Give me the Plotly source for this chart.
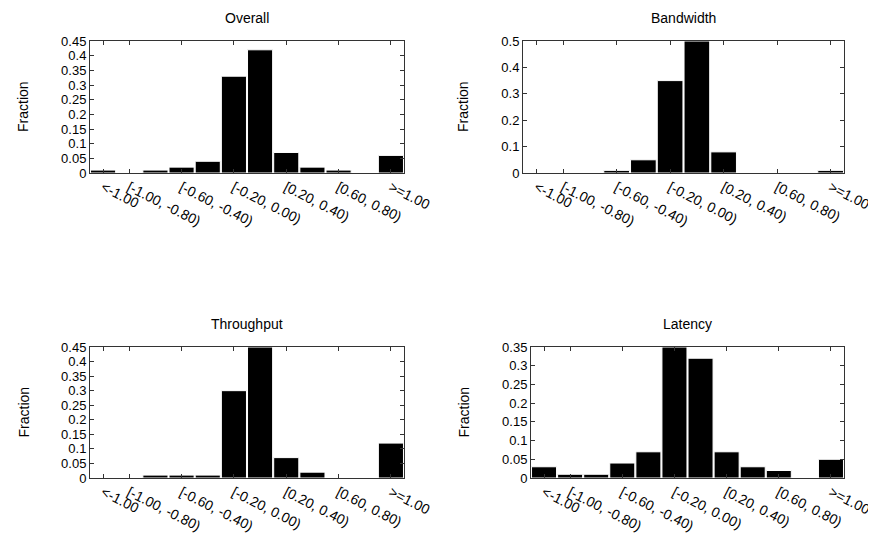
import plotly.graph_objects as go

categories = ["<-1.00", "[-1.00, -0.80)", "[-0.80, -0.60)", "[-0.60, -0.40)",
              "[-0.40, -0.20)", "[-0.20, 0.00)", "[0.00, 0.20)", "[0.20, 0.40)",
              "[0.40, 0.60)", "[0.60, 0.80)", "[0.80, 1.00)", ">=1.00"]
shown_idx = [0, 1, 3, 5, 7, 9, 11]

overall = [0.01, 0.0, 0.01, 0.02, 0.04, 0.33, 0.42, 0.07, 0.02, 0.01, 0.0, 0.06]
bandwidth = [0.0, 0.0, 0.0, 0.01, 0.05, 0.35, 0.50, 0.08, 0.0, 0.0, 0.0, 0.01]
throughput = [0.0, 0.0, 0.01, 0.01, 0.01, 0.30, 0.45, 0.07, 0.02, 0.0, 0.0, 0.12]
latency = [0.03, 0.01, 0.01, 0.04, 0.07, 0.35, 0.32, 0.07, 0.03, 0.02, 0.0, 0.05]

titles = ["Overall", "Bandwidth", "Throughput", "Latency"]
series = [overall, bandwidth, throughput, latency]
yranges = [0.45, 0.5, 0.45, 0.35]
ydtick = [0.05, 0.1, 0.05, 0.05]

W, H = 876, 541
OFF = 8  # page body margin offset in the browser
# plot boxes in screen pixels: (left, right, top, bottom)
boxes = [(90, 404, 41, 173), (523, 844, 41, 173),
         (90, 404, 347, 478), (531, 844, 347, 478)]

FONT = "Liberation Sans, Arial, Helvetica, sans-serif"
FS = 14
FSY = 13
fig = go.Figure()
xs = list(range(len(categories)))


def px(v):
    return (v - OFF) / W


def py(v):
    return 1 - (v - OFF) / H


for i, (t, vals) in enumerate(zip(titles, series)):
    l, r, tp, bt = boxes[i]
    xa = "x" if i == 0 else f"x{i+1}"
    ya = "y" if i == 0 else f"y{i+1}"
    fig.add_trace(go.Bar(x=xs, y=vals, xaxis=xa, yaxis=ya,
                         marker=dict(color="black", line=dict(color="white", width=1)),
                         showlegend=False))
    xkey = "xaxis" if i == 0 else f"xaxis{i+1}"
    ykey = "yaxis" if i == 0 else f"yaxis{i+1}"
    fig.layout[xkey] = dict(domain=[px(l), px(r)], anchor=ya, range=[-0.5, 11.5],
                            tickmode="array", tickvals=shown_idx,
                            ticktext=[categories[k] for k in shown_idx],
                            tickangle=27, ticks="inside", ticklen=4, tickcolor="#333",
                            showline=True, linecolor="#333", linewidth=1, mirror="ticks",
                            showgrid=False, zeroline=False, automargin=False,
                            tickfont=dict(family=FONT, size=FS, color="black"))
    fig.layout[ykey] = dict(domain=[py(bt), py(tp)], anchor=xa,
                            range=[0, yranges[i]], dtick=ydtick[i], tick0=0,
                            ticks="inside", ticklen=4, tickcolor="#333",
                            showline=True, linecolor="#333", linewidth=1, mirror="ticks",
                            showgrid=False, zeroline=False, automargin=False,
                            tickfont=dict(family=FONT, size=FSY, color="black"))
    cx = (l + r) / 2
    fig.add_annotation(text=t, x=px(cx), y=py(tp - 23), xref="paper", yref="paper",
                       showarrow=False, font=dict(family=FONT, size=FS, color="black"),
                       xanchor="center", yanchor="middle")
    fx = 23 if l < 300 else 463
    fig.add_annotation(text="Fraction", x=px(fx), y=py((tp + bt) / 2),
                       xref="paper", yref="paper", showarrow=False, textangle=-90,
                       font=dict(family=FONT, size=FS, color="black"),
                       xanchor="center", yanchor="middle")

fig.update_layout(width=W, height=H, margin=dict(l=0, r=0, t=0, b=0),
                  paper_bgcolor="white", plot_bgcolor="white", bargap=0.04)
fig.write_html("out.html")
